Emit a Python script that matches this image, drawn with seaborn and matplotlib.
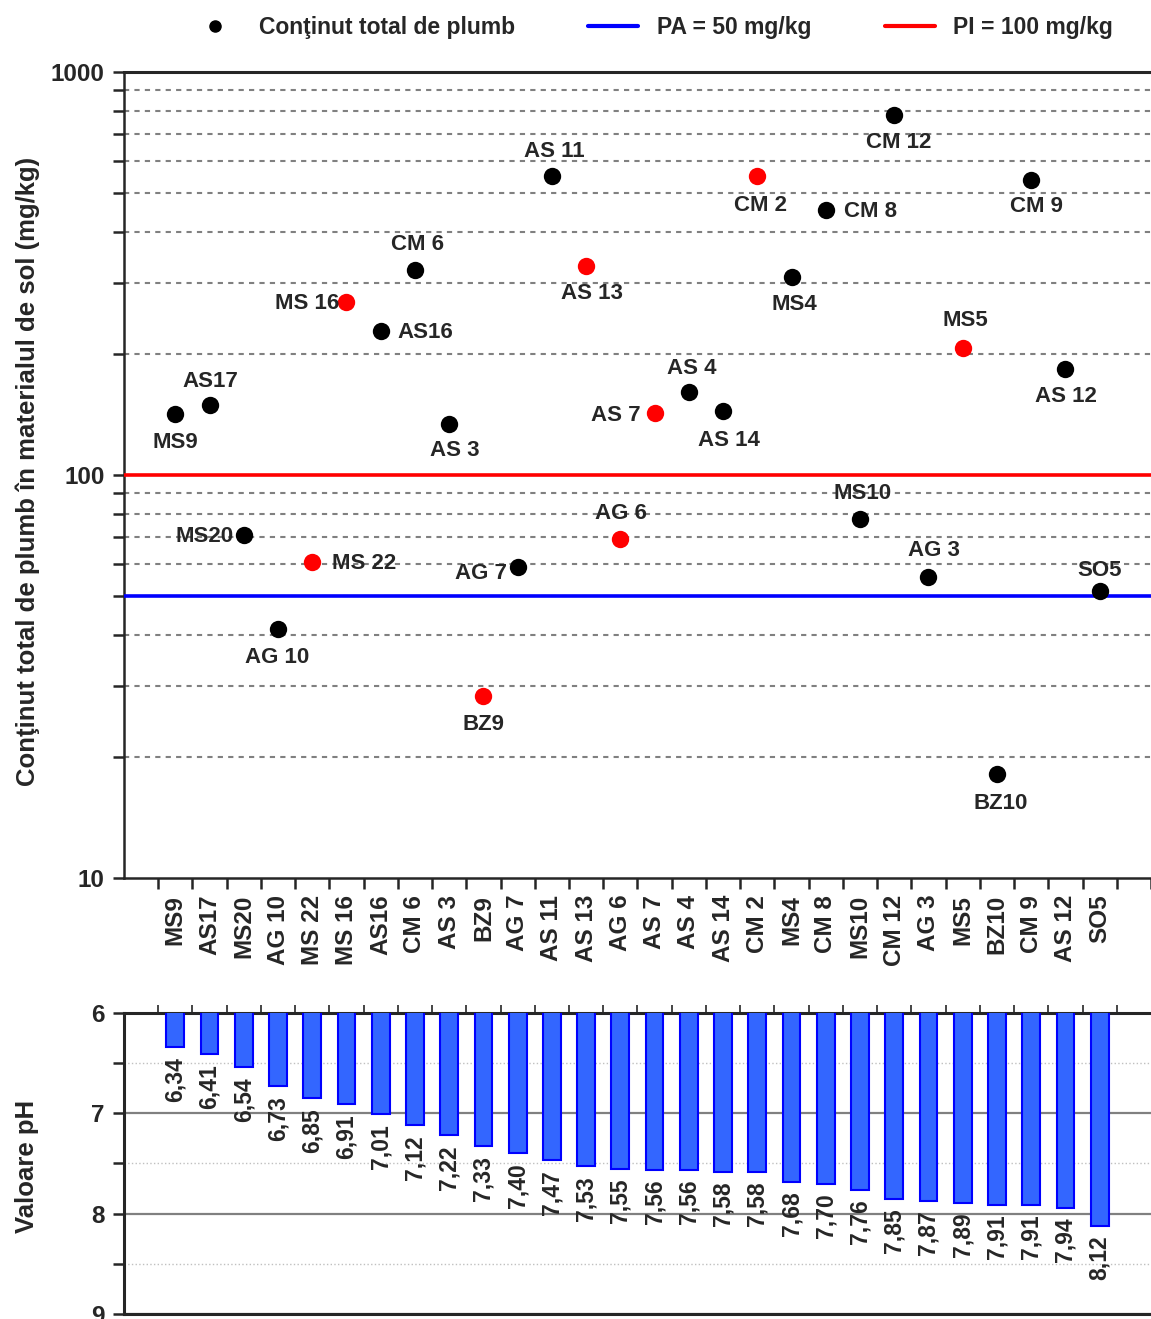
import matplotlib.pyplot as plt
import matplotlib.ticker as mtick
from matplotlib.lines import Line2D
import numpy as np
import pandas as pd
import seaborn as sns

sns.set_style("ticks")
plt.rcParams['font.family'] = ['Liberation Sans', 'DejaVu Sans']
plt.rcParams['font.weight'] = 'bold'

# Date
probe = ["MS9", "AS17", "MS20", "AG 10", "MS 22", "MS 16", "AS16", "CM 6", "AS 3", "BZ9",
         "AG 7", "AS 11", "AS 13", "AG 6", "AS 7", "AS 4", "AS 14", "CM 2", "MS4", "CM 8",
         "MS10", "CM 12", "AG 3", "MS5", "BZ10", "CM 9", "AS 12", "SO5"]
plumb = [142, 149, 71, 41.5, 61, 269, 228, 323, 134, 28.3,
         59, 552, 330, 69.5, 142.5, 161, 144, 552, 310, 455,
         78, 782, 56, 207, 18.1, 540, 183, 51.5]
depasire = ["nu", "nu", "nu", "nu", "da", "da", "nu", "nu", "nu", "da",
            "nu", "nu", "da", "da", "da", "nu", "nu", "da", "nu", "nu",
            "nu", "nu", "nu", "da", "nu", "nu", "nu", "nu"]
ph = [6.34, 6.41, 6.54, 6.73, 6.85, 6.91, 7.01, 7.12, 7.22, 7.33,
      7.40, 7.47, 7.53, 7.55, 7.56, 7.56, 7.58, 7.58, 7.68, 7.70,
      7.76, 7.85, 7.87, 7.89, 7.91, 7.91, 7.94, 8.12]
prag_alerta = 50
prag_interventie = 100

# pozitia etichetelor fata de puncte (px, y in sus) si alinierea
etichete_poz = [(0, -29, "center"), (1, 24, "center"), (-10, -2, "right"), (-1, -29, "center"),
                (20, -2, "left"), (-7, -2, "right"), (17, -2, "left"), (3, 25, "center"),
                (6, -27, "center"), (0, -29, "center"), (-11, -6, "right"), (2, 25, "center"),
                (6, -27, "center"), (1, 25, "center"), (-14, -2, "right"), (3, 23, "center"),
                (6, -29, "center"), (3, -29, "center"), (3, -27, "center"), (18, -2, "left"),
                (3, 25, "center"), (4, -27, "center"), (5, 26, "center"), (3, 27, "center"),
                (4, -29, "center"), (5, -27, "center"), (1, -27, "center"), (0, 21, "center")]

df = pd.DataFrame({"proba": probe, "plumb": plumb, "depasire": depasire, "ph": ph})

fig = plt.figure(figsize=(11.51, 13.19), dpi=100)
ax1 = fig.add_axes([0.1077, 0.3343, 0.8923, 0.6111])
ax2 = fig.add_axes([0.1077, 0.0038, 0.8923, 0.2282])

# --- panou superior: continut de plumb ---
ax1.set_yscale("log")
sns.stripplot(data=df, x="proba", y="plumb", hue="depasire", order=probe,
              palette={"nu": "black", "da": "#ff0000"}, jitter=False, size=12.5,
              linewidth=0, legend=False, ax=ax1, zorder=5)
ax1.axhline(prag_interventie, color="#ff0000", lw=2.6, zorder=3)
ax1.axhline(prag_alerta, color="#0000ff", lw=2.6, zorder=3)

px = 72 / 100
for i, (nume, val) in enumerate(zip(probe, plumb)):
    dx, dy, ha = etichete_poz[i]
    ax1.annotate(nume, (i, val), xytext=(dx * px, dy * px), textcoords="offset points",
                 ha=ha, va="center", fontsize=16, fontweight="bold", zorder=6)

ax1.set_xlim(-1.5, 28.5)
ax1.set_ylim(10, 1000)
ax1.yaxis.set_major_locator(mtick.FixedLocator([10, 100, 1000]))
ax1.yaxis.set_major_formatter(mtick.FormatStrFormatter("%d"))
ax1.yaxis.set_minor_locator(mtick.LogLocator(base=10, subs=np.arange(2, 10)))
ax1.yaxis.set_minor_formatter(mtick.NullFormatter())
ax1.yaxis.grid(True, which="minor", color="#808080", linestyle=(0, (2.5, 2.5)), lw=1.5)
ax1.set_xticks(np.arange(len(probe)))
ax1.set_xticklabels(probe, rotation=90, fontsize=17.5, fontweight="bold")
ax1.xaxis.set_minor_locator(mtick.FixedLocator(np.arange(-0.5, 29, 1)))
ax1.tick_params(axis="x", which="major", length=0, pad=12)
ax1.tick_params(axis="x", which="minor", length=8, width=1.8, direction="out")
ax1.tick_params(axis="y", which="both", length=8, width=1.8, direction="out", labelsize=17.5, pad=6)
ax1.set_xlabel("")
ax1.set_ylabel("Conţinut total de plumb în materialul de sol (mg/kg)", fontsize=18.5,
               fontweight="bold")
ax1.yaxis.set_label_coords(-0.082, 0.505)
ax1.spines["right"].set_visible(False)
ax1.spines["top"].set_linewidth(2.2)
for s in ["left", "bottom"]:
    ax1.spines[s].set_linewidth(1.8)

# --- panou inferior: pH ---
sns.barplot(x=probe, y=ph, order=probe, color="#3366ff", edgecolor="#0000ff", linewidth=1.5,
            width=0.52, saturation=1, ax=ax2, zorder=3)
ax2.set_ylim(9, 6)
ax2.set_xlim(-1.5, 28.5)
for i, val in enumerate(ph):
    ax2.annotate(f"{val:.2f}".replace(".", ","), (i, val), xytext=(0, -7), textcoords="offset points",
                 rotation=90, ha="center", va="top", fontsize=16.5, fontweight="bold", zorder=4)
ax2.yaxis.set_major_locator(mtick.FixedLocator([6, 7, 8, 9]))
ax2.yaxis.set_minor_locator(mtick.FixedLocator([6.5, 7.5, 8.5]))
ax2.yaxis.grid(True, which="major", color="#808080", lw=1.6)
ax2.yaxis.grid(True, which="minor", color="#c0c0c0", lw=1, linestyle=":")
ax2.set_xticks(np.arange(-0.5, 28.5, 1))
ax2.set_xticklabels([])
ax2.tick_params(axis="x", top=True, bottom=False, length=6, width=1.2, direction="out")
ax2.tick_params(axis="y", which="both", length=8, width=1.8, direction="out", labelsize=17.5, pad=6)
ax2.set_xlabel("")
ax2.set_ylabel("Valoare pH", fontsize=18.5, fontweight="bold")
ax2.yaxis.set_label_coords(-0.083, 0.49)
ax2.spines["right"].set_visible(False)
for s in ["top", "bottom", "left"]:
    ax2.spines[s].set_linewidth(2.2)

# legenda
handles = [Line2D([], [], marker="o", color="black", lw=0, markersize=8),
           Line2D([], [], color="#0000ff", lw=3),
           Line2D([], [], color="#ff0000", lw=3)]
labels = ["Conţinut total de plumb", "PA = 50 mg/kg", "PI = 100 mg/kg"]
fig.legend(handles, labels, loc="center", bbox_to_anchor=(0.566, 0.9795), ncol=3, frameon=False,
           prop={"size": 16.5, "weight": "bold"}, handlelength=2.2, handletextpad=0.8, columnspacing=3.2)

fig.savefig("out.png", dpi=100)
